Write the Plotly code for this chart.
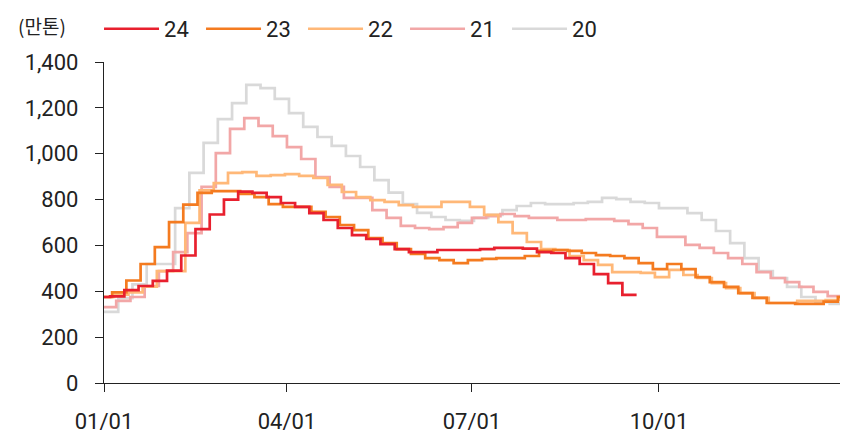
'''
    Weekly stock line chart (만톤), years 20-24, step lines.
'''

import pandas as pd
import plotly.graph_objects as go

# weekly readings, one list per year; first date of each list below
START_20 = '2023-01-01'
START_21 = '2022-12-31'
START_22 = '2022-12-30'
START_23 = '2022-12-29'
START_24 = '2022-12-28'

VALUES_20 = [310, 370, 430, 519, 519, 763, 916, 1047, 1151, 1221, 1300, 1286, 1239, 1177,
             1117, 1073, 1034, 990, 942, 885, 830, 780, 742, 724, 711, 707, 720, 733, 754,
             772, 785, 780, 780, 785, 790, 807, 802, 790, 785, 763, 763, 741, 711, 663, 610,
             545, 488, 458, 419, 375, 353, 345, 335, 335]
VALUES_21 = [331, 358, 375, 423, 488, 571, 654, 855, 1003, 1108, 1155, 1121, 1077, 1029,
             977, 898, 855, 807, 807, 754, 720, 685, 676, 671, 680, 698, 720, 728, 737, 728,
             720, 720, 711, 711, 715, 715, 707, 693, 676, 637, 637, 602, 589, 567, 545, 519,
             484, 458, 440, 419, 397, 379, 379, 379]
VALUES_22 = [375, 385, 395, 420, 488, 488, 698, 840, 872, 916, 920, 903, 907, 911, 903, 894,
             864, 833, 811, 798, 790, 776, 768, 768, 790, 790, 768, 733, 702, 654, 615, 584,
             580, 554, 536, 515, 484, 484, 480, 462, 493, 471, 458, 436, 414, 392, 371, 349,
             349, 358, 358, 362, 371, 371]
VALUES_23 = [375, 395, 447, 519, 593, 702, 778, 829, 837, 837, 825, 811, 780, 768, 768, 746,
             724, 689, 667, 632, 610, 584, 563, 545, 536, 523, 536, 541, 545, 545, 554, 576,
             580, 576, 567, 558, 554, 545, 523, 497, 519, 497, 462, 440, 419, 392, 371, 349,
             349, 345, 345, 355, 375, 375]
VALUES_24 = [375, 378, 405, 423, 445, 490, 556, 671, 735, 800, 835, 829, 811, 785, 768, 741,
             711, 676, 645, 628, 606, 584, 571, 571, 580, 580, 580, 584, 589, 589, 586, 571,
             567, 545, 519, 475, 436, 384, 384]

SERIES = [
    ('20', START_20, VALUES_20, '#D9D9D9'),
    ('21', START_21, VALUES_21, '#F2A7A7'),
    ('22', START_22, VALUES_22, '#FFB878'),
    ('23', START_23, VALUES_23, '#F47B20'),
    ('24', START_24, VALUES_24, '#E8202E'),
]

TICK_VALS = ['2023-01-01', '2023-04-01', '2023-07-01', '2023-10-01', '2024-01-01']
TICK_TEXT = ['01/01', '04/01', '07/01', '10/01', '']
Y_TICKS = [0, 200, 400, 600, 800, 1000, 1200, 1400]

FONT = 'Roboto, Noto Sans, sans-serif'


def get_plot():
    fig = go.Figure()
    for name, start, values, color in SERIES:
        dates = pd.date_range(start, periods=len(values), freq='7D')
        fig.add_trace(go.Scatter(
            x=dates, y=values,
            mode='lines',
            line=dict(color=color, width=2.7, shape='hv'),
            name=name,
            hoverinfo='x+y'))

    # the page body keeps an 8px margin, so the figure is 8px smaller
    fig.update_layout(
        width=840, height=426,
        margin=dict(l=96, r=2, t=54, b=51, autoexpand=False),
        plot_bgcolor='white', paper_bgcolor='white',
        font=dict(family=FONT, size=22, color='#222222'),
        showlegend=True,
        legend=dict(
            orientation='h', traceorder='reversed',
            x=-0.0067, xanchor='left', y=1.103, yanchor='middle',
            itemwidth=55, font=dict(size=22),
            entrywidth=32, entrywidthmode='pixels',
            bgcolor='rgba(0,0,0,0)'),
        annotations=[dict(
            text='(만톤)', xref='paper', yref='paper',
            x=-0.119, y=1.115, xanchor='left', yanchor='middle',
            showarrow=False,
            font=dict(family='Noto Sans CJK KR', size=19, color='#222222'))],
    )
    fig.update_xaxes(
        range=['2023-01-01', '2024-01-01'],
        tickvals=TICK_VALS, ticktext=TICK_TEXT,
        showgrid=False, zeroline=False,
        showline=True, linecolor='#222222', linewidth=1.3,
        ticks='outside', ticklen=8, tickcolor='#222222', tickwidth=1.3,
        ticklabelstandoff=10)
    fig.update_yaxes(
        range=[0, 1400], tickvals=Y_TICKS, tickformat=',',
        showgrid=False, zeroline=False,
        showline=True, linecolor='#222222', linewidth=1.3,
        ticks='outside', ticklen=8, tickcolor='#222222', tickwidth=1.3,
        ticklabelstandoff=12)
    return fig


fig = get_plot()
fig.write_html('out.html')
